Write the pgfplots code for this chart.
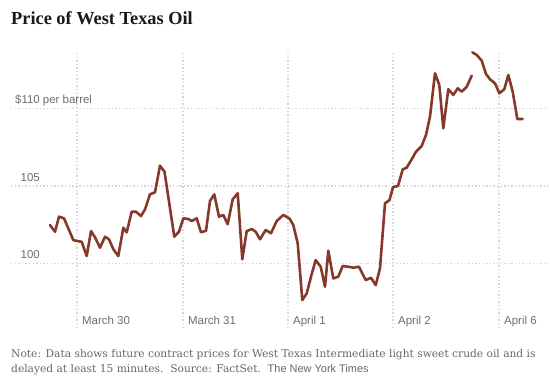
\documentclass[border=0pt]{standalone}
\usepackage{pgfplots}
\pgfplotsset{compat=1.18}
\usepackage{fontspec}
\setmainfont{Liberation Serif}
\setsansfont{Liberation Sans}
\newfontfamily\notefont{DejaVu Serif}
\definecolor{oil}{HTML}{86382A}
\definecolor{tickgray}{HTML}{6E6E6E}
\definecolor{notegray}{HTML}{666666}
\definecolor{gridgray}{HTML}{D6D6D6}
\begin{document}
\begin{tikzpicture}
\useasboundingbox (0bp,0bp) rectangle (550bp,-386bp);
\node[anchor=base west, inner sep=0pt, text={black!90}, font=\fontsize{18.4}{20}\selectfont\bfseries] at (11bp,-24bp) {Price of West Texas Oil};
\begin{axis}[
  at={(11bp,-328bp)}, anchor=south west,
  scale only axis, width=537bp, height=276bp,
  xmin=11, xmax=548, ymin=95.83, ymax=113.63,
  axis line style={draw=none}, major tick length=0pt,
  xtick={77,183,288,393,499},
  xticklabels={March 30,March 31,April 1,April 2,April 6},
  ytick={100,105,110},
  yticklabels={100,105,{\$110\rlap{ per barrel}}},
  grid=major,
  major grid style={gridgray, line width=1.4bp, dash pattern=on 1.4bp off 2.2bp},
  xticklabel style={anchor=base west, inner sep=0pt, xshift=5bp, yshift=3.5bp, font=\fontsize{11.5}{13}\selectfont\sffamily, text=tickgray},
  yticklabel style={anchor=base east, inner sep=0pt, xshift=29bp, yshift=4.5bp, font=\fontsize{11.5}{13}\selectfont\sffamily, text=tickgray},
  clip=false, unbounded coords=jump,
]
\addplot[oil, line width=2.6bp, line join=round, line cap=round] table[row sep=\\] {
x y\\
50 102.47\\ 55 102.04\\ 59 103.01\\ 64 102.90\\ 69 102.15\\ 73.3 101.50\\ 77.3 101.44\\
81.7 101.39\\ 86.7 100.47\\ 91 102.08\\ 95 101.68\\ 100 101.01\\ 105 101.72\\ 109 101.55\\
113.3 100.92\\ 118.3 100.47\\ 123.3 102.30\\ 126.7 102.00\\ 131.7 103.33\\ 136 103.33\\
141 103.05\\ 145 103.48\\ 150 104.45\\ 155 104.58\\ 160 106.30\\ 164.5 105.91\\
174.3 101.72\\ 179 102.04\\ 183.3 102.90\\ 188.3 102.86\\ 191.7 102.73\\ 196.7 102.90\\
201 102.00\\ 206 102.10\\ 210 104.02\\ 214.3 104.45\\ 219 103.01\\ 223.3 103.12\\
227.7 102.52\\ 232.7 104.13\\ 237.7 104.52\\ 242.3 100.26\\ 246.7 102.08\\ 251.7 102.21\\
255.7 102.04\\ 260 101.55\\ 265.7 102.15\\ 271 101.94\\ 276.7 102.73\\ 283.3 103.12\\
289.5 102.89\\ 293.3 102.47\\ 297.7 101.29\\ 302.3 97.63\\ 306.7 98.06\\ 311.7 99.31\\
315.7 100.21\\ 320.7 99.78\\ 325 98.49\\ 328.3 100.81\\ 333.3 99.03\\ 338.3 99.14\\
342.7 99.83\\ 348.3 99.78\\ 353.3 99.72\\ 359 99.78\\ 365.7 98.92\\ 371 99.07\\
375.7 98.60\\ 380 99.68\\ 385 103.87\\ 389.5 104.08\\ 393 104.92\\ 398 104.99\\
402.7 106.06\\ 406.7 106.17\\ 411.7 106.71\\ 416 107.20\\ 421.7 107.57\\ 426 108.28\\
430 109.46\\ 435 112.26\\ 439.3 111.50\\ 443.3 108.71\\ 448.3 111.23\\ 453.3 110.86\\
457.7 111.29\\ 461.7 111.07\\ 466.7 111.39\\ 471.7 112.10\\
472 nan\\
472.3 113.61\\ 476.7 113.44\\ 481.7 113.07\\ 486 112.21\\ 490 111.87\\ 495 111.61\\
499.3 110.97\\ 504.3 111.23\\ 508.3 112.15\\ 512.7 111.07\\ 517.3 109.31\\ 522.7 109.31\\
};
\end{axis}
\node[anchor=base west, inner sep=0pt, text=notegray, font=\notefont\fontsize{10.7}{15}\selectfont] at (11bp,-357bp) {Note: Data shows future contract prices for West Texas Intermediate light sweet crude oil and is};
\node[anchor=base west, inner sep=0pt, text=notegray, font=\notefont\fontsize{10.7}{15}\selectfont] at (11bp,-372bp) {delayed at least 15 minutes.\ \ Source: FactSet.\ \ {\sffamily\fontsize{11}{15}\selectfont The New York Times}};
\end{tikzpicture}
\end{document}
